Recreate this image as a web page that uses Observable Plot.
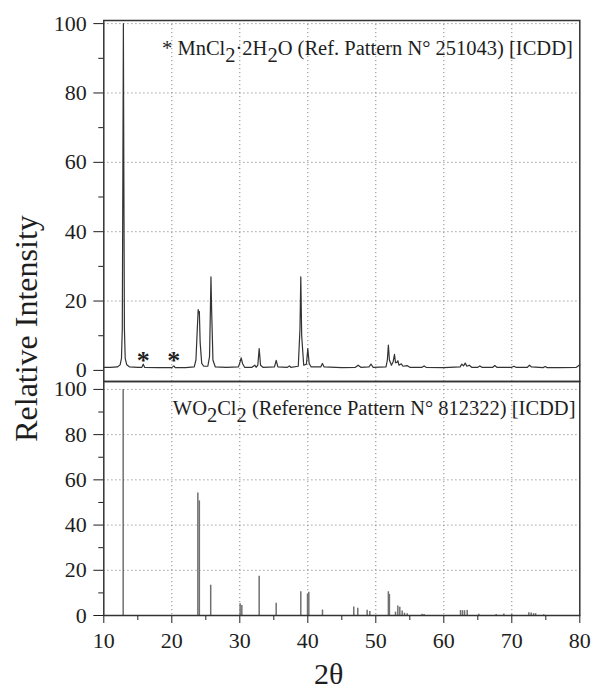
<!DOCTYPE html>
<html><head><meta charset="utf-8">
<script src="https://cdn.jsdelivr.net/npm/d3@7"></script>
<script src="https://cdn.jsdelivr.net/npm/@observablehq/plot@0.6"></script>
<style>
body{margin:0;background:#fff;}
#chart{position:relative;width:592px;height:690px;font-family:"Liberation Serif",serif;}
#chart svg{position:absolute;left:0;}
</style></head><body><div id="chart"></div>
<script>
// ---- data ----
const patternTheta = [10.0,11.0,12.0,12.4,12.6,12.72,12.8,12.88,12.95,13.03,13.15,13.38,13.8,15.0,15.6,15.8,16.0,18.0,20.0,20.3,20.5,22.0,23.3,23.55,23.75,23.88,23.97,24.05,24.17,24.4,24.7,25.3,25.55,25.68,25.76,25.85,26.05,26.4,28.0,29.8,30.05,30.2,30.4,30.7,31.8,32.2,32.4,32.65,32.85,33.05,33.4,35.1,35.35,35.6,37.0,37.3,37.5,38.6,38.85,38.97,39.1,39.4,39.8,40.0,40.2,40.5,41.9,42.15,42.4,45.0,47.0,47.4,47.8,49.0,49.3,49.6,51.5,51.7,51.85,52.0,52.3,52.55,52.75,52.9,53.1,53.25,53.4,53.75,54.0,54.6,55.0,56.8,57.1,57.4,60.0,62.4,62.65,62.9,63.15,63.4,63.75,64.1,65.0,65.3,65.6,67.2,67.5,67.8,70.0,70.3,70.6,72.3,72.6,72.9,74.6,74.9,75.2,77.0,79.5,80.0];
const patternIntensity = [0.9,0.9,1.0,1.6,3.5,12,55,100,55,12,3.5,1.6,1.0,0.9,0.9,1.8,0.9,0.8,0.8,1.3,0.8,0.8,1.0,3,12,17.5,16.5,17,8,2,1.2,1.2,4,18,27,18,3,1.0,0.9,1.0,2.5,3.6,2,0.9,0.9,1.5,0.9,1.5,6.3,1.5,0.9,1.0,2.9,1.0,0.9,1.3,0.9,1.2,12,27,10,1.5,1.8,6.3,2,1.0,1.0,2.0,1.0,0.8,0.9,1.5,0.9,1.0,1.8,0.9,1.0,3,7.3,3,1.5,2.5,4.6,2.2,2.3,2.8,1.5,1.9,1.2,1.4,0.9,0.9,1.3,0.9,0.8,1.0,1.8,1.3,2.1,1.2,1.5,0.9,0.9,1.3,0.9,0.9,1.4,0.9,0.9,1.2,0.9,0.9,1.5,1.0,0.8,1.1,0.8,0.8,0.9,1.6];
const markerTheta = [15.8, 20.3];
const markerIntensity = [3.8, 3.8];
const stickTheta = [12.85,23.83,24.05,25.72,30.05,30.3,32.85,35.35,38.97,39.96,40.15,42.16,46.76,47.35,48.73,49.12,51.85,52.0,52.9,53.24,53.53,53.88,54.22,54.62,56.8,57.1,62.46,62.75,63.05,63.44,65.15,67.7,68.83,70.0,72.5,72.85,73.2,73.5,74.7];
const stickIntensity = [100,54.2,50.7,13.4,5.2,4.4,17.4,5.4,10.5,9.4,10.3,2.4,3.8,3.2,2.3,1.8,10.5,9.3,1.5,4.2,3.6,2.0,1.0,0.8,0.5,0.4,2.2,2.1,2.1,2.2,0.6,0.4,0.7,0.4,1.2,1.1,0.8,0.8,0.3];
const xTicks = [10,20,30,40,50,60,70,80];
const xMinorTicks = [15,25,35,45,55,65,75];
const yTicks = [0,20,40,60,80,100];
const yMinorTicks = [10,30,50,70,90];
const topLabel = "* MnCl_2·2H_2O (Ref. Pattern N° 251043) [ICDD]";
const bottomLabel = "WO_2Cl_2 (Reference Pattern N° 812322) [ICDD]";
const yTitle = "Relative Intensity";
const xTitle = "2θ";

// ---- tables ----
const pattern = patternTheta.map((t, i) => ({t, v: patternIntensity[i]}));
const markers = markerTheta.map((t, i) => ({t, v: markerIntensity[i]}));
const sticks = stickTheta.map((t, i) => ({t, v: stickIntensity[i]}));

const W = 592, ML = 103.3, MR = 12.7;
const ink = "#1e1e1e";
const font = "'Liberation Serif', 'Times New Roman', serif";
const gridStyle = {stroke: "#8a8a8a", strokeOpacity: 1, strokeDasharray: "1.2,2.8", strokeWidth: 1};
const common = {
  width: W, marginLeft: ML, marginRight: MR,
  style: {fontFamily: font, background: "transparent", color: ink, overflow: "visible"}
};

const topPlot = Plot.plot({
  ...common, height: 383, marginTop: 20, marginBottom: 2,
  x: {domain: [10, 80], axis: null},
  y: {domain: [-3.2, 100.9], axis: null},
  marks: [
    Plot.gridX(xTicks.slice(1, -1), gridStyle),
    Plot.gridY(yTicks.slice(1), gridStyle),
    Plot.axisY(yTicks, {tickSize: 10, tickPadding: 7, fontSize: 22, label: null}),
    Plot.axisY(yMinorTicks, {tickSize: 5, tickFormat: () => "", label: null}),
    Plot.line(pattern, {x: "t", y: "v", stroke: "#333", strokeWidth: 1.2}),
    Plot.text(markers, {x: "t", y: "v", text: () => "*", fontSize: 26, fontWeight: "bold", lineAnchor: "middle", dy: 3, fill: ink}),
    Plot.text([topLabel], {frameAnchor: "top-right", text: d => d, textAnchor: "end", lineAnchor: "middle", dx: -7, dy: 28.4, fontSize: 20.5, fill: ink}),
    Plot.frame({stroke: "#333", strokeWidth: 1.5})
  ]
});

const bottomPlot = Plot.plot({
  ...common, height: 311, marginTop: 2, marginBottom: 75,
  x: {domain: [10, 80]},
  y: {domain: [0, 103.5]},
  marks: [
    Plot.gridX(xTicks.slice(1, -1), gridStyle),
    Plot.gridY(yTicks.slice(1), gridStyle),
    Plot.axisY(yTicks, {tickSize: 10, tickPadding: 7, fontSize: 22, label: null}),
    Plot.axisY(yMinorTicks, {tickSize: 5, tickFormat: () => "", label: null}),
    Plot.axisX(xTicks, {tickSize: 8, tickPadding: 9, fontSize: 22, label: null}),
    Plot.axisX(xMinorTicks, {tickSize: 5, tickFormat: () => "", label: null}),
    Plot.ruleX(sticks, {x: "t", y1: 0, y2: "v", stroke: "#707070", strokeWidth: 1.5}),
    Plot.text([bottomLabel], {frameAnchor: "top-right", text: d => d, textAnchor: "end", lineAnchor: "middle", dx: -4.3, dy: 27.4, fontSize: 20.5, fill: ink}),
    Plot.text([xTitle], {frameAnchor: "bottom", text: d => d, lineAnchor: "middle", dx: -13, dy: 59, fontSize: 30, fill: ink}),
    Plot.frame({stroke: "#333", strokeWidth: 1.5})
  ]
});

function subscriptify(svg) {
  svg.querySelectorAll("text").forEach(t => {
    const s = t.textContent;
    if (!s.includes("_")) return;
    while (t.firstChild) t.removeChild(t.firstChild);
    let shifted = false;
    s.split(/(_\d)/).forEach(p => {
      if (!p) return;
      const ts = document.createElementNS("http://www.w3.org/2000/svg", "tspan");
      if (p.startsWith("_")) {
        ts.textContent = p.slice(1);
        if (!shifted) ts.setAttribute("dy", 7);
        shifted = true;
      } else {
        ts.textContent = p;
        if (shifted) { ts.setAttribute("dy", -7); shifted = false; }
      }
      t.appendChild(ts);
    });
  });
}
subscriptify(topPlot);
subscriptify(bottomPlot);

const chart = document.getElementById("chart");
topPlot.style.top = "0px";
bottomPlot.style.top = "379px";
chart.appendChild(bottomPlot);
chart.appendChild(topPlot);

const overlay = d3.create("svg").attr("width", W).attr("height", 690)
  .style("top", "0px").style("pointer-events", "none");
overlay.append("text")
  .attr("transform", "translate(37,328.5) rotate(-90)")
  .attr("text-anchor", "middle")
  .attr("font-family", font).attr("font-size", 32).attr("fill", ink)
  .text(yTitle);
chart.appendChild(overlay.node());
</script></body></html>
